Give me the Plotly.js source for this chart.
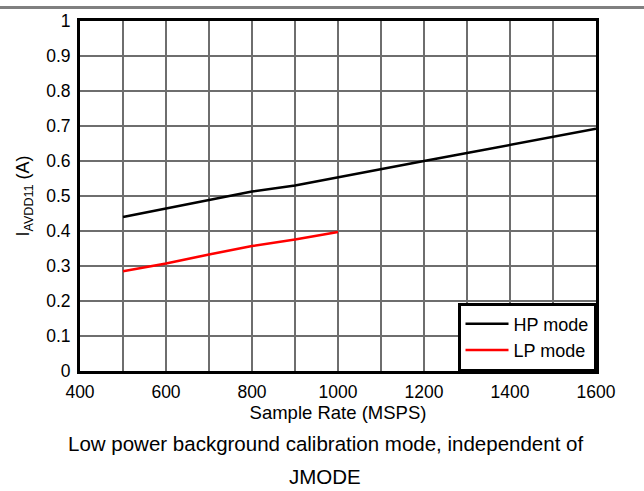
<!DOCTYPE html>
<html>
<head>
<meta charset="utf-8">
<script src="https://cdn.plot.ly/plotly-3.0.1.min.js"></script>
<style>
html,body{margin:0;padding:0;background:#fff;}
#chart{width:644px;height:491px;}
</style>
</head>
<body>
<div id="chart"></div>
<script>
const hpRate = [500, 600, 700, 800, 900, 1000, 1100, 1200, 1300, 1400, 1500, 1600];
const hpCurrent = [0.440, 0.464, 0.488, 0.513, 0.530, 0.554, 0.577, 0.600, 0.623, 0.646, 0.669, 0.692];
const lpRate = [500, 600, 700, 800, 900, 1000];
const lpCurrent = [0.285, 0.307, 0.333, 0.357, 0.376, 0.397];
const seriesNames = ["HP mode", "LP mode"];
const xTitle = "Sample Rate (MSPS)";
const yTitle = "I<sub>AVDD11</sub> (A)";
const captionLines = ["Low power background calibration mode, independent of", "JMODE"];

const FONT = "Liberation Sans, Arial, Helvetica, sans-serif";

const traces = [
  {x: hpRate, y: hpCurrent, name: seriesNames[0], mode: "lines", line: {color: "#000000", width: 2.5}},
  {x: lpRate, y: lpCurrent, name: seriesNames[1], mode: "lines", line: {color: "#ff0000", width: 2.5}}
];

const W = 644, H = 491, L = 80, R = 48, T = 21, B = 120;
const pw = W - L - R, ph = H - T - B;
const py = (pix) => 1 - (pix - T) / ph;
const px = (pix) => (pix - L) / pw;

const layout = {
  width: W, height: H,
  margin: {l: L, r: R, t: T, b: B, pad: 0},
  paper_bgcolor: "#ffffff",
  plot_bgcolor: "#ffffff",
  font: {family: FONT, size: 17.5, color: "#000"},
  showlegend: true,
  legend: {
    x: 1, y: 0, xanchor: "right", yanchor: "bottom",
    bgcolor: "#ffffff", bordercolor: "#000", borderwidth: 2.5,
    font: {family: FONT, size: 18, color: "#000"},
    itemwidth: 43,
    tracegroupgap: 0
  },
  xaxis: {
    range: [400, 1600], dtick: 200, tick0: 400,
    showgrid: true, gridcolor: "#6e6e6e", gridwidth: 1.5,
    minor: {dtick: 100, showgrid: true, gridcolor: "#6e6e6e", gridwidth: 1.5, ticks: ""},
    showline: true, mirror: true, linecolor: "#000", linewidth: 3,
    ticks: "", zeroline: false,
    ticklabelstandoff: 3,
    tickfont: {family: FONT, size: 17.5, color: "#000"},
    title: {text: xTitle, font: {family: FONT, size: 18.5, color: "#000"}, standoff: 2}
  },
  yaxis: {
    range: [0, 1], dtick: 0.1, tick0: 0,
    showgrid: true, gridcolor: "#6e6e6e", gridwidth: 1.5,
    showline: true, mirror: true, linecolor: "#000", linewidth: 3,
    ticks: "", zeroline: false,
    ticklabelstandoff: 3,
    tickfont: {family: FONT, size: 17.5, color: "#000"},
    title: {text: yTitle, font: {family: FONT, size: 18, color: "#000"}, standoff: 12}
  },
  shapes: [
    {type: "line", xref: "paper", yref: "paper",
     x0: -L / pw, x1: 1 + R / pw, y0: py(7.5), y1: py(7.5),
     line: {color: "#808080", width: 3}}
  ],
  annotations: [
    {text: captionLines[0], xref: "paper", yref: "paper", x: px(325), y: py(443),
     xanchor: "center", yanchor: "middle", showarrow: false,
     font: {family: FONT, size: 20.5, color: "#000"}},
    {text: captionLines[1], xref: "paper", yref: "paper", x: px(325), y: py(476),
     xanchor: "center", yanchor: "middle", showarrow: false,
     font: {family: FONT, size: 20.5, color: "#000"}}
  ]
};

Plotly.newPlot("chart", traces, layout, {displayModeBar: false, staticPlot: true});
</script>
</body>
</html>
